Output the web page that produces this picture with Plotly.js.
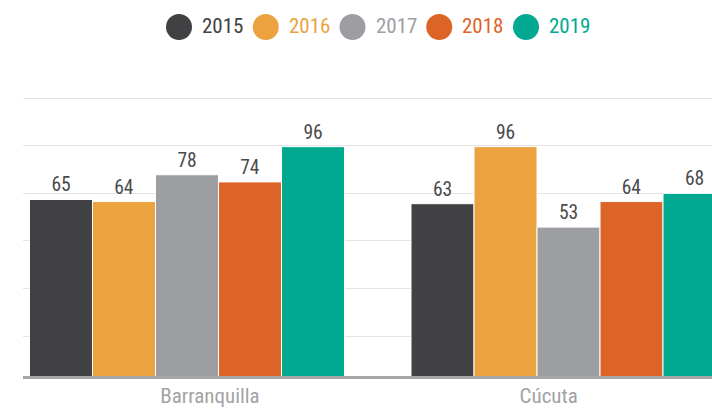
<!DOCTYPE html>
<html>
<head>
<meta charset="utf-8">
<script src="https://cdn.plot.ly/plotly-3.0.1.min.js"></script>
<style>html,body{margin:0;padding:0;background:#fff;}#chart{width:712px;height:409px;}</style>
</head>
<body>
<div id="chart"></div>
<script>
// ---- data ----
const categories = ['Barranquilla', 'Cúcuta'];
const years = ['2015', '2016', '2017', '2018', '2019'];
const v2015 = [65, 63];
const v2016 = [64, 96];
const v2017 = [78, 53];
const v2018 = [74, 64];
const v2019 = [96, 68];
const gridVals = [23.67, 33.64, 47.85, 68.03, 96.8, 137.3];

// ---- style ----
const colors = ['#414042', '#eba23f', '#9d9ea2', '#dc6427', '#00a990'];
const series = [v2015, v2016, v2017, v2018, v2019];
const FONT = '"Roboto Condensed", "Open Sans", Roboto, sans-serif';
const legSize = 21, lblSize = 19.5, axSize = 21;

const traces = series.map((vals, i) => ({
  type: 'bar',
  name: years[i],
  x: categories,
  y: vals,
  text: vals.map(String),
  textposition: 'outside',
  textfont: {family: FONT, size: lblSize, color: '#4a4a4c'},
  marker: {color: colors[i], line: {color: '#ffffff', width: 1}},
  showlegend: false,
  hoverinfo: 'skip',
  cliponaxis: false
}));
// carrier trace for the category label axis (no visible marks)
traces.push({
  type: 'scatter', mode: 'markers', x: categories, y: categories.map(() => null),
  xaxis: 'x2', yaxis: 'y', showlegend: false, hoverinfo: 'skip'
});

// plot area geometry (px)
const L = 23, R = 0, T = 94, B = 33, W = 712, H = 409;
const pw = W - L - R, ph = H - T - B;
const px2paperX = p => (p - L) / pw;
const px2paperY = p => (H - B - p) / ph;

// custom legend: big circles + coloured labels
const shapes = [];
const annotations = [];
const legStart = 179, legStep = 86.75, legY = 27;
years.forEach((yr, i) => {
  const cx = legStart + i * legStep;
  shapes.push({
    type: 'circle', xref: 'paper', yref: 'paper',
    xsizemode: 'pixel', ysizemode: 'pixel',
    xanchor: px2paperX(cx), yanchor: px2paperY(legY),
    x0: -13, x1: 13, y0: -13, y1: 13,
    fillcolor: colors[i], line: {width: 0}
  });
  annotations.push({
    xref: 'paper', yref: 'paper',
    x: px2paperX(cx + 21), y: px2paperY(legY - 1),
    xanchor: 'left', yanchor: 'middle',
    text: yr, showarrow: false,
    font: {family: FONT, size: legSize, color: colors[i]}
  });
});

const layout = {
  width: W, height: H,
  margin: {l: L, r: R, t: T, b: B, pad: 0},
  paper_bgcolor: '#ffffff', plot_bgcolor: '#ffffff',
  barmode: 'group',
  bargap: 0.1743,
  bargroupgap: 0,
  font: {family: FONT},
  xaxis: {
    type: 'category',
    range: [-0.4299, 1.3761],
    showticklabels: false,
    ticks: '',
    showgrid: false,
    zeroline: false,
    showline: true, linecolor: '#a6a6a8', linewidth: 3,
    fixedrange: true
  },
  xaxis2: {
    type: 'category',
    overlaying: 'x',
    anchor: 'y',
    side: 'bottom',
    range: [-0.5521, 1.4821],
    ticks: '',
    ticklabelstandoff: 5,
    showgrid: false,
    zeroline: false,
    showline: false,
    tickfont: {family: FONT, size: axSize, color: '#a2a3a6'},
    fixedrange: true
  },
  yaxis: {
    type: 'log',
    range: [1.2471, 2.15095],
    tickvals: gridVals,
    showticklabels: false,
    ticks: '',
    showgrid: true, gridcolor: '#e4e4e4', gridwidth: 1,
    zeroline: false, showline: false,
    fixedrange: true
  },
  shapes: shapes,
  annotations: annotations,
  showlegend: false
};

Plotly.newPlot('chart', traces, layout, {displayModeBar: false, staticPlot: true});
</script>
</body>
</html>
